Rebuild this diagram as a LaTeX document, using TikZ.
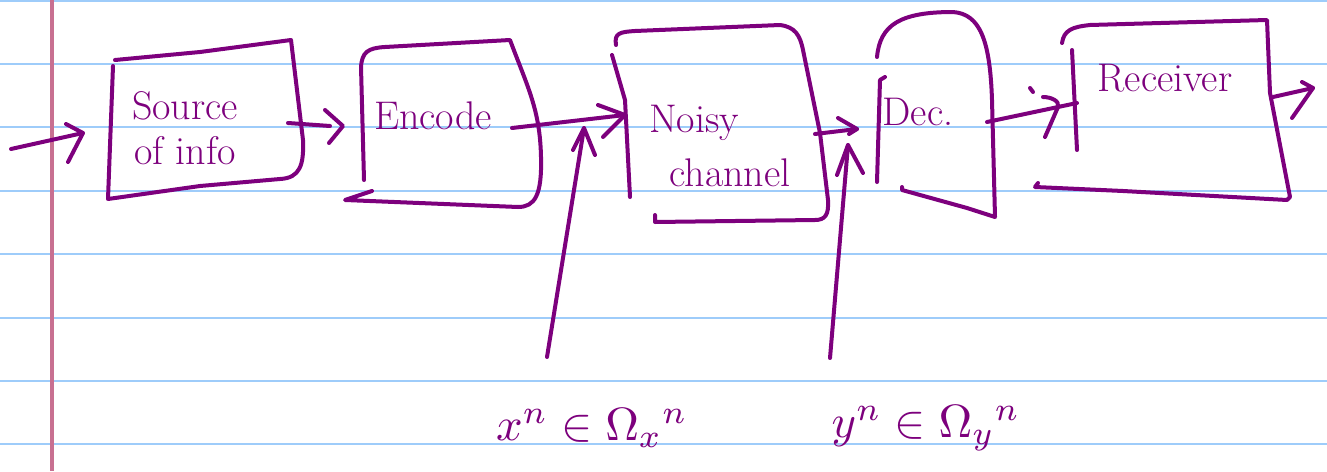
\documentclass[tikz,border=0pt]{standalone}
\usepackage{amsmath}
\definecolor{inkc}{RGB}{125,0,125}
\definecolor{rulec}{RGB}{158,204,250}
\definecolor{marginc}{RGB}{200,112,145}
\begin{document}
\begin{tikzpicture}[x=0.75pt,y=-0.75pt,
  ink/.style={draw=inkc, line width=3pt, line cap=round, line join=round},
  rulel/.style={draw=rulec, line width=2.2pt},
  marginl/.style={draw=marginc, line width=2.4pt},
  lab/.style={text=inkc, font=\fontsize{30}{32}\selectfont, align=center, inner sep=0pt},
  mlab/.style={text=inkc, scale=3.5, inner sep=0pt}]
\useasboundingbox (0,0) rectangle (1327,471);
\fill[white] (0,0) rectangle (1327,471);
% notebook paper
\foreach \yy in {1,64,127,191,254,318,381,444} \draw[rulel] (0,\yy) -- (1327,\yy);
\draw[marginl] (52,0) -- (52,471);

% ---- boxes (hand drawn) ----
% Source of info
\draw[ink] (113,66) -- (108,199) -- (200,186) -- (280,179) .. controls (300,178) and (304,165) .. (303,140) -- (291,40) -- (200,52) -- (115,60);
% Encode
\draw[ink] (364,180) -- (361,67) .. controls (362,52) and (368,48) .. (385,47) -- (510,40) .. controls (528,88) and (540,110) .. (541,157) .. controls (542,195) and (535,207) .. (518,207) -- (345,200) -- (372,191);
% Noisy channel
\draw[ink] (612,55) -- (625,100) -- (630,197);
\draw[ink] (616,45) .. controls (614,33) and (620,32) .. (635,31) -- (780,25) .. controls (795,27) and (800,35) .. (803,50) -- (820,133) -- (828,200) .. controls (829,215) and (825,220) .. (815,220) -- (655,222) -- (655,215);
% Dec.
\draw[ink] (885,77) -- (880,80) -- (877,182);
\draw[ink] (877,57) .. controls (880,25) and (900,12) .. (953,12) .. controls (980,14) and (990,40) .. (992,100) -- (995,217) -- (967,208) -- (902,190) -- (902,187);
% Receiver
\draw[ink] (1072,50) -- (1077,150);
\draw[ink] (1062,43) .. controls (1064,30) and (1072,27) .. (1090,25) -- (1267,20) -- (1270,93) -- (1290,197) -- (1287,200) -- (1123,191) -- (1035,187) -- (1038,183);

% ---- texts ----
\node[lab] (src) at (185,128) {Source\\[2pt]of info};
\node[lab] (enc) at (433,116) {Encode};
\node[lab] (noisy) at (712,146) {\hspace*{-0.9em}Noisy\\[8pt]\hspace*{0.9em}channel};
\node[lab] (dec) at (918,112) {Dec.};
\node[lab] (rcv) at (1165,78) {Receiver};
\node[mlab] (xlab) at (592,428) {$x^n \in \Omega_x{}^n$};
\node[mlab] (ylab) at (926,428) {$y^n \in \Omega_y{}^n$};

% ---- connector end points ----
\coordinate (inA) at (11,149);   \coordinate (inB) at (83,133);
\coordinate (seA) at (288,123);  \coordinate (seB) at (330,126); \coordinate (seH) at (343,126);
\coordinate (enA) at (512,128);  \coordinate (enB) at (625,115);
\coordinate (xA) at (547,357);   \coordinate (xB) at (584,128);
\coordinate (ndA) at (815,134);  \coordinate (ndB) at (857,129);
\coordinate (yA) at (830,358);   \coordinate (yB) at (848,145);
\coordinate (drA) at (987,122);  \coordinate (drB) at (1077,103); \coordinate (drH) at (1058,107);
\coordinate (oA) at (1273,97);   \coordinate (oB) at (1313,88);

% ---- connectors ----
\draw[ink] (inA) -- (inB);
\draw[ink] (inB) ++(-17,-9) -- (inB) -- ++(-15,29);
\draw[ink] (seA) -- (seB);
\draw[ink] (seH) ++(-18,-16) -- (seH) -- ++(-14,17);
\draw[ink] (enA) -- (enB);
\draw[ink] (enB) ++(-27,-10) -- (enB) -- ++(-22,22);
\draw[ink] (xA) -- (xB);
\draw[ink] (xB) ++(-11,22) -- (xB) -- ++(11,27);
\draw[ink] (ndA) -- (ndB);
\draw[ink] (ndB) ++(-19,-11) -- (ndB) -- ++(-8,5);
\draw[ink] (yA) -- (yB);
\draw[ink] (yB) ++(-11,30) -- (yB) -- ++(15,28);
\draw[ink] (drA) -- (drB);
\draw[ink] (drH) ++(-15,-10) .. controls ++(8,0) and ++(2,-6) .. (drH) -- ++(-13,30);
\draw[ink] (1030,88) -- (1033,92);
\draw[ink] (oA) -- (oB);
\draw[ink] (oB) ++(-11,-6) -- (oB) -- ++(-21,30);
\end{tikzpicture}
\end{document}
